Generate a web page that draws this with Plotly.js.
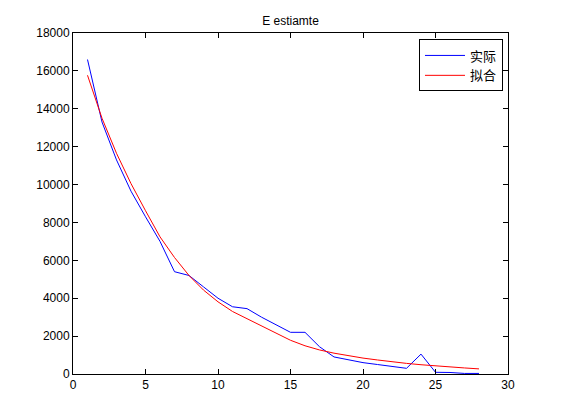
<!DOCTYPE html>
<html>
<head>
<meta charset="utf-8">
<script src="https://cdn.plot.ly/plotly-3.0.1.min.js"></script>
<style>html,body{margin:0;padding:0;background:#fff;}#chart{width:561px;height:420px;}</style>
</head>
<body>
<div id="chart"></div>
<script>
const xValues = [1,2,3,4,5,6,7,8,9,10,11,12,13,14,15,16,17,18,19,20,21,22,23,24,25,26,27,28];
const actual = [16600,13300,11300,9650,8300,7000,5400,5200,4600,4000,3550,3450,3000,2600,2200,2200,1440,900,740,600,500,400,300,1050,90,80,30,30];
const fitted = [15770,13500,11650,10050,8620,7240,6150,5200,4430,3810,3300,2920,2530,2150,1780,1490,1270,1100,960,840,740,640,560,490,420,370,320,270];
const seriesNames = ['实际','拟合'];
const titleText = 'E estiamte';

const axisCommon = {
  showgrid: false, zeroline: false, showline: true, mirror: 'ticks',
  linecolor: '#000', linewidth: 1, ticks: 'inside', ticklen: 5, tickcolor: '#000',
  tickfont: {family: 'Liberation Sans, Arial, sans-serif', size: 12, color: '#000'}
};

const traces = [
  {x: xValues, y: actual, name: seriesNames[0], type: 'scatter', mode: 'lines',
   line: {color: '#0000ff', width: 1}},
  {x: xValues, y: fitted, name: seriesNames[1], type: 'scatter', mode: 'lines',
   line: {color: '#ff0000', width: 1}}
];

const layout = {
  width: 561, height: 420,
  margin: {l: 73, r: 53, t: 33, b: 46},
  paper_bgcolor: '#fff', plot_bgcolor: '#fff',
  title: {text: titleText, font: {family: 'Liberation Sans, Arial, sans-serif', size: 12, color: '#000'},
          x: 0.5, xref: 'paper', y: 1 - 21/420, yanchor: 'middle'},
  xaxis: Object.assign({}, axisCommon, {range: [0, 30], tickvals: [0,5,10,15,20,25,30]}),
  yaxis: Object.assign({}, axisCommon, {range: [0, 18000],
          tickvals: [0,2000,4000,6000,8000,10000,12000,14000,16000,18000],
          ticktext: ['0','2000','4000','6000','8000','10000','12000','14000','16000','18000']}),
  showlegend: true,
  legend: {x: 0.9885, xanchor: 'right', y: 0.981, yanchor: 'top',
           bordercolor: '#000', borderwidth: 1, bgcolor: '#fff',
           font: {family: 'Noto Sans CJK SC, sans-serif', size: 13, color: '#000'},
           tracegroupgap: 0, itemwidth: 40}
};

Plotly.newPlot('chart', traces, layout, {displayModeBar: false, staticPlot: true});
</script>
</body>
</html>
